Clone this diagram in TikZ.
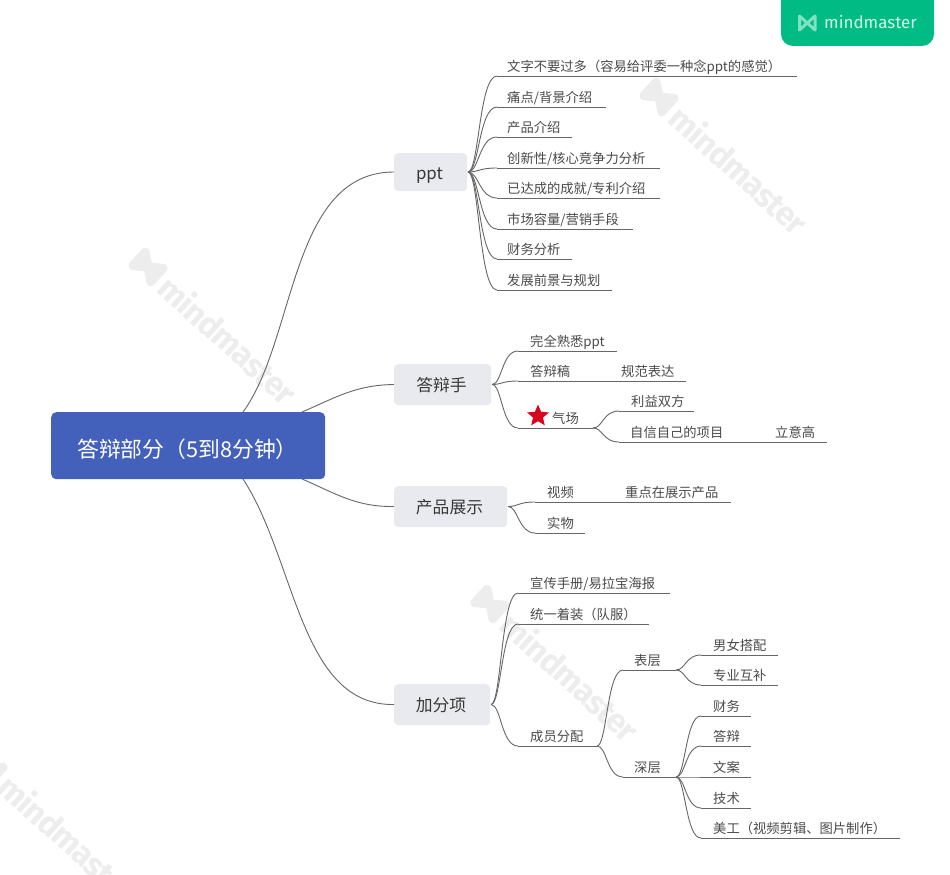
\documentclass[tikz,border=0pt]{standalone}
\usepackage{fontspec}
\setmainfont{Noto Sans CJK SC}
\newfontfamily\wmfont{Fira Sans}
\newfontfamily\wmtight[LetterSpace=-3]{Fira Sans}
\usetikzlibrary{calc,shapes.geometric}
\definecolor{inkgrey}{HTML}{4A4A4A}
\definecolor{linegrey}{HTML}{666666}
\definecolor{rootblue}{HTML}{4360BA}
\definecolor{boxgrey}{HTML}{E9EAF0}
\definecolor{wmgrey}{HTML}{EDEDED}
\definecolor{badgegreen}{HTML}{00BC84}
\definecolor{badgelogo}{HTML}{7FE0C2}
\definecolor{badgetext}{HTML}{D2F5EA}
\definecolor{starred}{HTML}{D7051E}
\tikzset{
  lbl/.style={font=\fontsize{13.3}{15}\selectfont,text=inkgrey,inner sep=0pt,anchor=base west},
  topicbox/.style={fill=boxgrey,rounded corners=4pt,draw=none,text=black!78,font=\fontsize{16.8}{19}\selectfont,inner sep=0pt,anchor=north west,align=center},
  rootbox/.style={fill=rootblue,rounded corners=5pt,draw=none,text=white,inner sep=0pt,anchor=north west},
  uline/.style={draw=linegrey,line width=0.9pt},
  hc/.style={draw=linegrey,line width=0.9pt,to path={let \p1=(\tikztostart),\p2=(\tikztotarget) in .. controls ({0.62*\x1+0.38*\x2},\y1) and ({0.62*\x1+0.38*\x2},\y2) .. (\tikztotarget)}},
}
% name, line start x, line y, line end x, text x, text
\newcommand\leaf[6]{%
  \coordinate (#1L) at (#2,#3);
  \coordinate (#1R) at (#4,#3);
  \draw[uline] (#1L) -- (#1R);
  \node[lbl] (#1) at (#5,#3-5) {#6};
}
\newcommand\topicnode[6]{% name x y w h text
  \node[topicbox,minimum width=#4pt,minimum height=#5pt] (#1) at (#2,#3) {\raisebox{-2pt}[0.8em][0.2em]{#6\kern 2.4pt}};
  \coordinate (#1E) at (#2+#4+1,#3+#5/2);
  \coordinate (#1W) at (#2,#3+#5/2);
}
\newcommand\wmark[3]{%
  \begin{scope}[shift={(#1,#2)},rotate=#3]
    \draw[wmgrey,line width=9pt,line join=round,fill=none]
      (-12,-9) -- (-12,9) -- (12,-9) -- (12,9) -- cycle;
    \node[font=\wmtight\bfseries\fontsize{33}{35}\selectfont,text=wmgrey,inner sep=0pt,anchor=west,transform shape] at (22,0) {mindmaster};
  \end{scope}
}
\begin{document}
\begin{tikzpicture}[x=1pt,y=-1pt]
\useasboundingbox (0,0) rectangle (950,875);
\begin{scope}
\clip (0,0) rectangle (950,875);
\wmark{148}{267}{-42}
\wmark{659}{97}{-42}
\wmark{490}{604}{-42}
\wmark{-12}{766}{-42}
\end{scope}

% badge
\begin{scope}
\clip (781,0) rectangle (934,46);
\fill[badgegreen,rounded corners=12pt] (781,-20) rectangle (934,46);
\end{scope}
\draw[badgelogo,line width=3pt,line join=round] (799.5,16) -- (799.5,30) -- (815,16) -- (815,30) -- cycle;
\node[font=\wmfont\fontsize{17}{20}\selectfont,text=badgetext,inner sep=0pt,anchor=base west] (brand) at (824,28.5) {mindmaster};

% root
\node[rootbox,minimum width=274pt,minimum height=67pt] (root) at (51,412) {};
\node[font=\fontsize{21.8}{24}\selectfont,text=white,inner sep=0pt,anchor=base west] (rootlabel) at (77,457) {答辩部分（5到8分钟）};
\coordinate (r1) at (243,412);
\coordinate (r2) at (302,412);
\coordinate (r3) at (302,479);
\coordinate (r4) at (243,479);

% topics
\topicnode{ppt}{394}{153}{73}{38}{ppt}
\topicnode{spk}{394}{364}{97}{41}{答辩手}
\topicnode{show}{394}{486}{113}{41}{产品展示}
\topicnode{plus}{394}{684}{96}{41}{加分项}

\draw[uline] (r1) .. controls (296,340) and (290,172) .. (pptW);
\draw[uline] (r2) .. controls (335,398) and (355,385) .. (spkW);
\draw[uline] (r3) .. controls (335,493) and (355,507) .. (showW);
\draw[uline] (r4) .. controls (296,560) and (300,706) .. (plusW);

% ppt leaves
\leaf{a1}{497}{76}{797}{507}{文字不要过多（容易给评委一种念ppt的感觉）}
\leaf{a2}{497}{107}{606}{507}{痛点/背景介绍}
\leaf{a3}{497}{137}{572}{507}{产品介绍}
\leaf{a4}{497}{168}{660}{507}{创新性/核心竞争力分析}
\leaf{a5}{497}{198}{660}{507}{已达成的成就/专利介绍}
\leaf{a6}{497}{229}{633}{507}{市场容量/营销手段}
\leaf{a7}{497}{259}{572}{507}{财务分析}
\leaf{a8}{497}{290}{612}{507}{发展前景与规划}
\foreach \kid in {a1,a2,a3,a4,a5,a6,a7,a8} \draw[hc] (pptE) to (\kid L);

% speaker
\leaf{b1}{518}{351}{617}{530}{完全熟悉ppt}
\leaf{b2}{518}{381}{610}{530}{答辩稿}
\leaf{b2a}{610}{381}{686}{621}{规范表达}
\leaf{b3}{518}{428}{593}{552}{气场}
\node[star,star points=5,star point ratio=2.2,fill=starred,draw=none,minimum size=23pt,inner sep=0pt] (bstar) at (538,416) {};
\leaf{b3a}{619}{411}{694}{631}{利益双方}
\leaf{b3b}{619}{442}{760}{630}{自信自己的项目}
\leaf{b3c}{760}{442}{827}{775}{立意高}
\foreach \kid in {b1,b2,b3} \draw[hc] (spkE) to (\kid L);
\foreach \kid in {b3a,b3b} \draw[hc] (b3R) to (\kid L);

% show
\leaf{c1}{535}{502}{610}{547}{视频}
\leaf{c1a}{610}{502}{731}{625}{重点在展示产品}
\leaf{c2}{535}{533}{585}{547}{实物}
\foreach \kid in {c1,c2} \draw[hc] (showE) to (\kid L);

% plus
\leaf{d1}{518}{593}{670}{530}{宣传手册/易拉宝海报}
\leaf{d2}{518}{624}{649}{530}{统一着装（队服）}
\leaf{d3}{518}{746}{597}{530}{成员分配}
\foreach \kid in {d1,d2,d3} \draw[hc] (plusE) to (\kid L);
\leaf{e1}{623}{670}{676}{634}{表层}
\leaf{e2}{623}{777}{676}{634}{深层}
\foreach \kid in {e1,e2} \draw[hc] (d3R) to (\kid L);
\leaf{f1}{701}{655}{778}{713}{男女搭配}
\leaf{f2}{701}{685}{778}{713}{专业互补}
\foreach \kid in {f1,f2} \draw[hc] (e1R) to (\kid L);
\leaf{g1}{701}{716}{751}{713}{财务}
\leaf{g2}{701}{746}{751}{713}{答辩}
\leaf{g3}{701}{777}{751}{713}{文案}
\leaf{g4}{701}{808}{751}{713}{技术}
\leaf{g5}{701}{838}{900}{713}{美工（视频剪辑、图片制作）}
\foreach \kid in {g1,g2,g3,g4,g5} \draw[hc] (e2R) to (\kid L);
\end{tikzpicture}
\end{document}
